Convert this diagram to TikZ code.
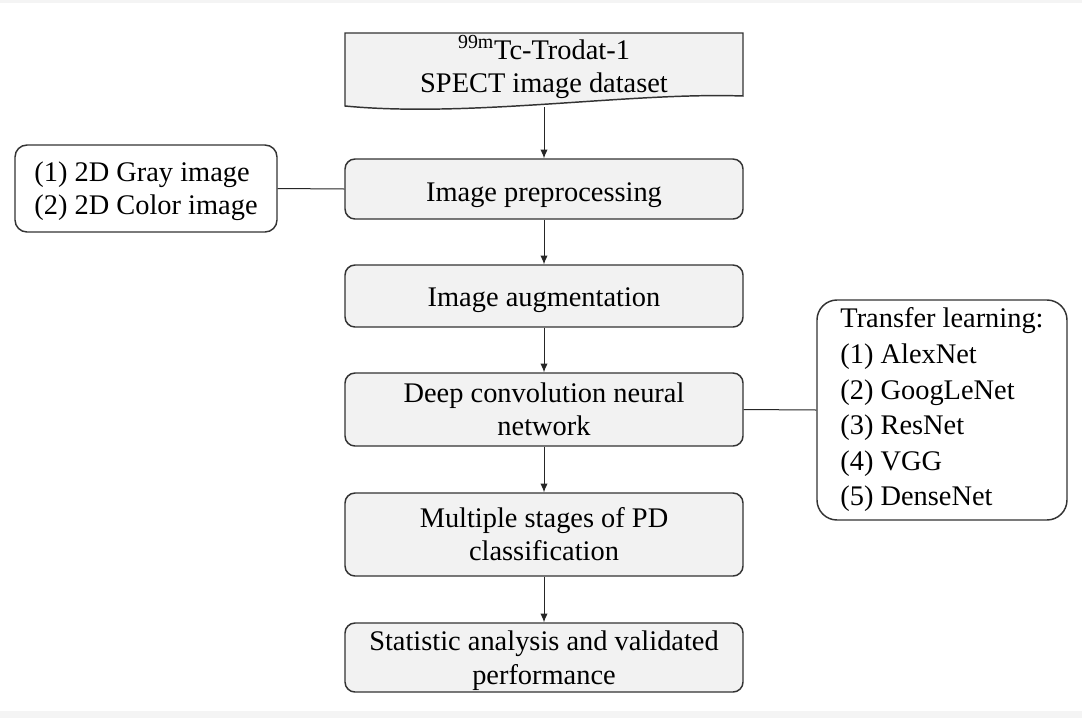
\documentclass[tikz,border=0pt]{standalone}
\usepackage{fontspec}
\setmainfont{Liberation Serif}
\usetikzlibrary{arrows.meta}
\definecolor{boxfill}{HTML}{F2F2F2}
\definecolor{boxline}{HTML}{333333}
\definecolor{strip}{HTML}{F4F4F4}
\begin{document}
\begin{tikzpicture}[x=0.75pt,y=-0.75pt,
  every node/.style={font=\fontsize{21.3pt}{24.8pt}\selectfont},
  flowbox/.style={draw=boxline,line width=1.1pt,fill=boxfill,rounded corners=7.5pt,
    minimum width=298.5pt,inner sep=0pt,align=center},
  sidebox/.style={draw=boxline,line width=1.1pt,fill=white,inner sep=0pt,align=left},
  conn/.style={draw=black!85,line width=0.75pt},
  arr/.style={conn,-{Latex[length=6.5pt,width=5.5pt]}}]
\useasboundingbox (0,0) rectangle (1082,718);
\fill[white] (0,0) rectangle (1082,718);
\fill[strip] (0,0) rectangle (1082,3);
\fill[strip] (0,711) rectangle (1082,718);
% document shape
\draw[boxline,line width=1.1pt,fill=boxfill] (345,33) -- (743,33) -- (743,96)
  .. controls (630,92) and (470,118) .. (345,106) -- cycle;
\node (doc) at (544,67) [align=center] {\textsuperscript{99m}Tc-Trodat-1\\SPECT image dataset};
\coordinate (docb) at (544,107);
\node[flowbox,minimum height=45pt,text height=18pt,text depth=0pt] (pre) at (544,189) {Image preprocessing};
\node[flowbox,minimum height=46.5pt,text height=15pt,text depth=0pt] (aug) at (544,296) {Image augmentation};
\node[flowbox,minimum height=54.75pt] (dcnn) at (544,409.5) {Deep convolution neural\\network};
\node[flowbox,minimum height=62.25pt] (multi) at (544,534.5) {Multiple stages of PD\\classification};
\node[flowbox,minimum height=51.75pt] (stat) at (544,657.5) {\rule{0pt}{19.5pt}Statistic analysis and validated\\performance};
\node[sidebox,rounded corners=9pt,minimum width=196.5pt,minimum height=65.25pt] (img) at (146,188.5)
  {\rule{0pt}{19.5pt}(1) 2D Gray image\\(2) 2D Color image};
\node[sidebox,rounded corners=15pt,minimum width=187.5pt,minimum height=165pt,
  font=\fontsize{21.3pt}{26.7pt}\selectfont] (tl) at (942,410)
  {Transfer learning:\\(1) AlexNet\\(2) GoogLeNet\\(3) ResNet\\(4) VGG\\(5) DenseNet};
\draw[arr] (docb) -- (pre.north);
\draw[arr] (pre) -- (aug);
\draw[arr] (aug) -- (dcnn);
\draw[arr] (dcnn) -- (multi);
\draw[arr] (multi) -- (stat);
\draw[conn] (img.east) -- (pre.west);
\draw[conn] (dcnn.east) -- (tl.west);
\end{tikzpicture}
\end{document}
